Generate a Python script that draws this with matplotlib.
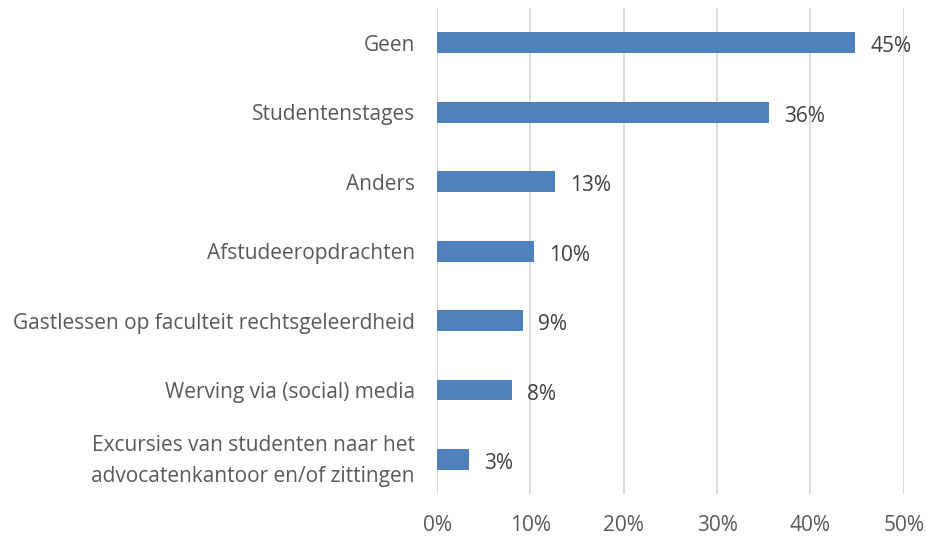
import numpy as np
import matplotlib.pyplot as plt
from matplotlib.transforms import ScaledTranslation

plt.rcParams['font.family'] = ['Open Sans', 'DejaVu Sans']

# Data (top to bottom)
categories = ['Geen', 'Studentenstages', 'Anders', 'Afstudeeropdrachten',
              'Gastlessen op faculteit rechtsgeleerdheid',
              'Werving via (social) media',
              'Excursies van studenten naar het\nadvocatenkantoor en/of zittingen']
values = [44.8, 35.6, 12.6, 10.4, 9.2, 8.0, 3.4]
value_labels = ['45%', '36%', '13%', '10%', '9%', '8%', '3%']
xticks = [0, 10, 20, 30, 40, 50]
xtick_labels = ['0%', '10%', '20%', '30%', '40%', '50%']

text_color = '#595959'
fs = 15

fig = plt.figure(figsize=(9.26, 5.36), dpi=100)
ax = fig.add_axes([0.472, 0.078, 0.504, 0.907])

y = np.arange(len(categories))
ax.barh(y, values, height=0.3, color='#4F81BD', zorder=3)
for yi, v, lab in zip(y, values, value_labels):
    ax.text(v + 1.6, yi + 0.06, lab, va='center', ha='left', fontsize=fs, color='#404040')

ax.set_xlim(0, 50)
ax.set_ylim(len(categories) - 0.5, -0.5)
ax.set_yticks(y)
ax.set_yticklabels(categories, fontsize=fs, color=text_color, linespacing=1.6)
ax.set_xticks(xticks)
ax.set_xticklabels(xtick_labels, fontsize=fs, color=text_color)
ax.tick_params(axis='both', length=0)
ax.tick_params(axis='y', pad=16)
ax.tick_params(axis='x', pad=15)
ax.grid(axis='x', color='#D9D9D9', lw=1.3, zorder=0)
for s in ax.spines.values():
    s.set_visible(False)

# nudge the two-line label up a little
last = ax.get_yticklabels()[-1]
last.set_transform(last.get_transform() + ScaledTranslation(0, 6 / 100, fig.dpi_scale_trans))

fig.savefig('out.png', dpi=100)
